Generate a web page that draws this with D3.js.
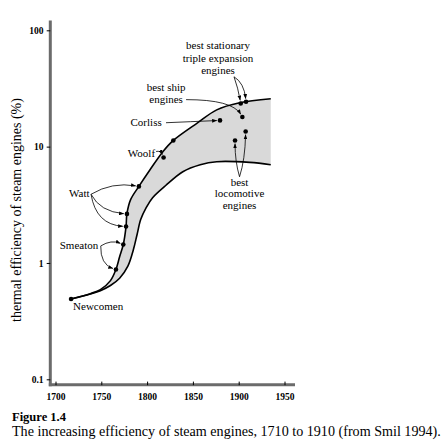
<!DOCTYPE html>
<html>
<head>
<meta charset="utf-8">
<script src="https://cdn.jsdelivr.net/npm/d3@7"></script>
<style>
  html, body { margin: 0; padding: 0; background: #fff; }
  svg { display: block; }
  text { font-family: "Liberation Serif", "Times New Roman", serif; fill: #000; }
</style>
</head>
<body>
<svg id="chart" width="446" height="446"></svg>
<script>
// ---------- data ----------
const xTicks = [1700, 1750, 1800, 1850, 1900, 1950];
const yTicks = [0.1, 1, 10, 100];
const yTickLabels = ["0.1", "1", "10", "100"];

// upper envelope (best performance)
const upperYears = [1717, 1738, 1749, 1760, 1766, 1770, 1774, 1777, 1778, 1782, 1791, 1803, 1817, 1828, 1855, 1876, 1901, 1935];
const upperEff   = [0.49, 0.545, 0.59, 0.705, 0.88, 1.13, 1.44, 2.05, 2.65, 3.5, 4.55, 6.3, 9.0, 11.2, 16.0, 20.7, 23.8, 25.8];

// lower envelope
const lowerYears = [1717, 1738, 1749, 1760, 1770, 1779, 1785, 1789, 1793, 1799, 1806, 1820, 1839, 1858, 1876, 1912, 1935];
const lowerEff   = [0.49, 0.54, 0.578, 0.64, 0.74, 0.94, 1.30, 1.75, 2.36, 2.99, 3.64, 4.61, 6.09, 6.99, 7.42, 7.32, 6.99];

// individual engines
const engineNames = ["Newcomen", "Smeaton", "Smeaton", "Watt", "Watt", "Watt", "Woolf", "", "Corliss",
                     "stationary", "stationary", "ship", "locomotive", "locomotive"];
const engineYears = [1717, 1766, 1774, 1777, 1778, 1791, 1818, 1828.6, 1879.6, 1902.2, 1908, 1904, 1896, 1907.6];
const engineEff   = [0.49, 0.88, 1.44, 2.06, 2.64, 4.55, 8.07, 11.3, 16.8, 23.5, 24.3, 18.0, 11.3, 13.5];

const yTitle = "thermal efficiency of steam engines (%)";
const captionTitle = "Figure 1.4";
const captionText = "The increasing efficiency of steam engines, 1710 to 1910 (from Smil 1994).";

// ---------- layout (annotation offsets in px relative to first target point) ----------
const annotations = [
  { lines: ["Newcomen"], targets: [0], anchor: "start", label: [2, 11], arrows: [] },
  { lines: ["Smeaton"], targets: [1, 2], anchor: "end", label: [-17.7, -20],
    arrows: [{ from: [-15.2, -23.5], ctrl: [-4.7, -30], to: 2 }, { from: [-15.2, -23.5], ctrl: [-15.7, -5], to: 1 }] },
  { lines: ["Watt"], targets: [3, 4, 5], anchor: "end", label: [-36.5, -29.7],
    arrows: [{ from: [-35, -32.2], ctrl: [-14, -44.7], to: 5 },
             { from: [-35, -32.2], ctrl: [-26, -14.7], to: 4 },
             { from: [-35, -32.2], ctrl: [-30, -1.7], to: 3 }] },
  { lines: ["Woolf"], targets: [6], anchor: "end", label: [-8.5, -0.5],
    arrows: [{ from: [-7.5, -6], ctrl: [-3, -7], to: 6 }] },
  { lines: ["Corliss"], targets: [8], anchor: "end", label: [-58.3, 5.3],
    arrows: [{ from: [-54, 2.3], ctrl: [-30, 1.3], to: 8 }] },
  { lines: ["best ship", "engines"], targets: [11], anchor: "middle", label: [-76.3, -26.3], lineGap: 12,
    arrows: [{ from: [-56.3, -17.3], ctrl: [-10.3, -17.3], to: 11 }] },
  { lines: ["best stationary", "triple expansion", "engines"], targets: [9, 10], anchor: "middle", label: [-22.7, -54], lineGap: 12.3,
    arrows: [{ from: [-6.7, -26.7], ctrl: [-2.7, -15.7], to: 9 }, { from: [-6.7, -26.7], ctrl: [3.3, -20.7], to: 10 }] },
  { lines: ["best", "locomotive", "engines"], targets: [12, 13], anchor: "middle", label: [4.5, 45.3], lineGap: 11.7,
    arrows: [{ from: [4.5, 36.3], ctrl: [0, 21.3], to: 12 }, { from: [4.5, 36.3], ctrl: [10, 19.3], to: 13 }] }
];

// ---------- scales ----------
const svg = d3.select("#chart");
const x = d3.scaleLinear().domain([1700, 1950]).range([55.5, 284.5]);
const y = d3.scaleLog().domain([0.1, 100]).range([379.3, 30.3]);

const axisX = 50.3, axisY = 384.7;
const barColor = "#6b6b6b";

// ---------- band ----------
const upper = upperYears.map((d, i) => [x(d), y(upperEff[i])]);
const lower = lowerYears.map((d, i) => [x(d), y(lowerEff[i])]);
const line = d3.line().curve(d3.curveCatmullRom.alpha(0.5));
const bandPath = line(upper) + line(lower.slice().reverse()).replace(/^M/, "L") + "Z";
svg.append("path").attr("d", bandPath).attr("fill", "#d9d9d9").attr("stroke", "none");
svg.append("path").attr("d", line(upper)).attr("fill", "none").attr("stroke", "#000").attr("stroke-width", 1.6);
svg.append("path").attr("d", line(lower)).attr("fill", "none").attr("stroke", "#000").attr("stroke-width", 1.6);

// ---------- axes ----------
svg.append("line").attr("x1", axisX).attr("x2", axisX).attr("y1", 20.5).attr("y2", axisY + 1.5)
  .attr("stroke", barColor).attr("stroke-width", 3);
svg.append("line").attr("x1", axisX - 1.5).attr("x2", 295).attr("y1", axisY).attr("y2", axisY)
  .attr("stroke", barColor).attr("stroke-width", 3);

const gy = svg.append("g").attr("transform", `translate(${axisX},0)`)
  .call(d3.axisLeft(y).tickValues(yTicks).tickFormat((d, i) => yTickLabels[i]).tickSize(3.6).tickPadding(3.2));
gy.select(".domain").remove();
gy.selectAll(".tick line").attr("stroke", "#000").attr("stroke-width", 1);
gy.selectAll(".tick text").attr("font-family", "Liberation Serif, serif").attr("font-size", 9.5)
  .attr("font-weight", "bold").attr("fill", "#222");

const gx = svg.append("g").attr("transform", `translate(0,${axisY + 0.5})`)
  .call(d3.axisBottom(x).tickValues(xTicks).tickFormat(d3.format("d")).tickSizeInner(-3.6).tickSizeOuter(0).tickPadding(8));
gx.select(".domain").remove();
gx.selectAll(".tick line").attr("stroke", "#000").attr("stroke-width", 1);
gx.selectAll(".tick text").attr("font-family", "Liberation Serif, serif").attr("font-size", 9.5)
  .attr("font-weight", "bold").attr("fill", "#222");

// ---------- arrows ----------
const defs = svg.append("defs");
defs.append("marker").attr("id", "ah").attr("viewBox", "0 0 8 6").attr("refX", 7.5).attr("refY", 3)
  .attr("markerWidth", 5).attr("markerHeight", 4).attr("markerUnits", "userSpaceOnUse").attr("orient", "auto")
  .append("path").attr("d", "M0,0 L8,3 L0,6 Z").attr("fill", "#000");

const pts = engineYears.map((d, i) => [x(d), y(engineEff[i])]);

annotations.forEach(a => {
  const [rx, ry] = pts[a.targets[0]];
  const g = svg.append("g");
  const gap = a.lineGap || 12;
  a.lines.forEach((t, k) => {
    g.append("text").attr("x", rx + a.label[0]).attr("y", ry + a.label[1] + k * gap)
      .attr("text-anchor", a.anchor).attr("font-size", 11).text(t);
  });
  a.arrows.forEach(ar => {
    const sx = rx + ar.from[0], sy = ry + ar.from[1];
    const cx = rx + ar.ctrl[0], cy = ry + ar.ctrl[1];
    const [tx, ty] = pts[ar.to];
    const dx = tx - cx, dy = ty - cy, len = Math.hypot(dx, dy);
    const ex = tx - dx / len * 3.2, ey = ty - dy / len * 3.2;
    const p = d3.path();
    p.moveTo(sx, sy);
    p.quadraticCurveTo(cx, cy, ex, ey);
    g.append("path").attr("d", p.toString()).attr("fill", "none").attr("stroke", "#000")
      .attr("stroke-width", 0.8).attr("marker-end", "url(#ah)");
  });
});

// ---------- points ----------
svg.append("g").selectAll("circle").data(pts).join("circle")
  .attr("cx", d => d[0]).attr("cy", d => d[1]).attr("r", 2.3).attr("fill", "#000");

// ---------- titles ----------
function fitText(sel, target) {
  const w = sel.node().getComputedTextLength();
  const fs = parseFloat(sel.attr("font-size"));
  sel.attr("font-size", fs * target / w);
}
const yt = svg.append("text").attr("transform", "translate(21,210) rotate(-90)")
  .attr("text-anchor", "middle").attr("font-size", 12).text(yTitle);
fitText(yt, 224);

svg.append("text").attr("x", 12).attr("y", 420.5).attr("font-size", 12.5).attr("font-weight", "bold")
  .attr("fill", "#222").text(captionTitle);
const cap = svg.append("text").attr("x", 12).attr("y", 435.5).attr("font-size", 12).text(captionText);
fitText(cap, 429);
</script>
</body>
</html>
